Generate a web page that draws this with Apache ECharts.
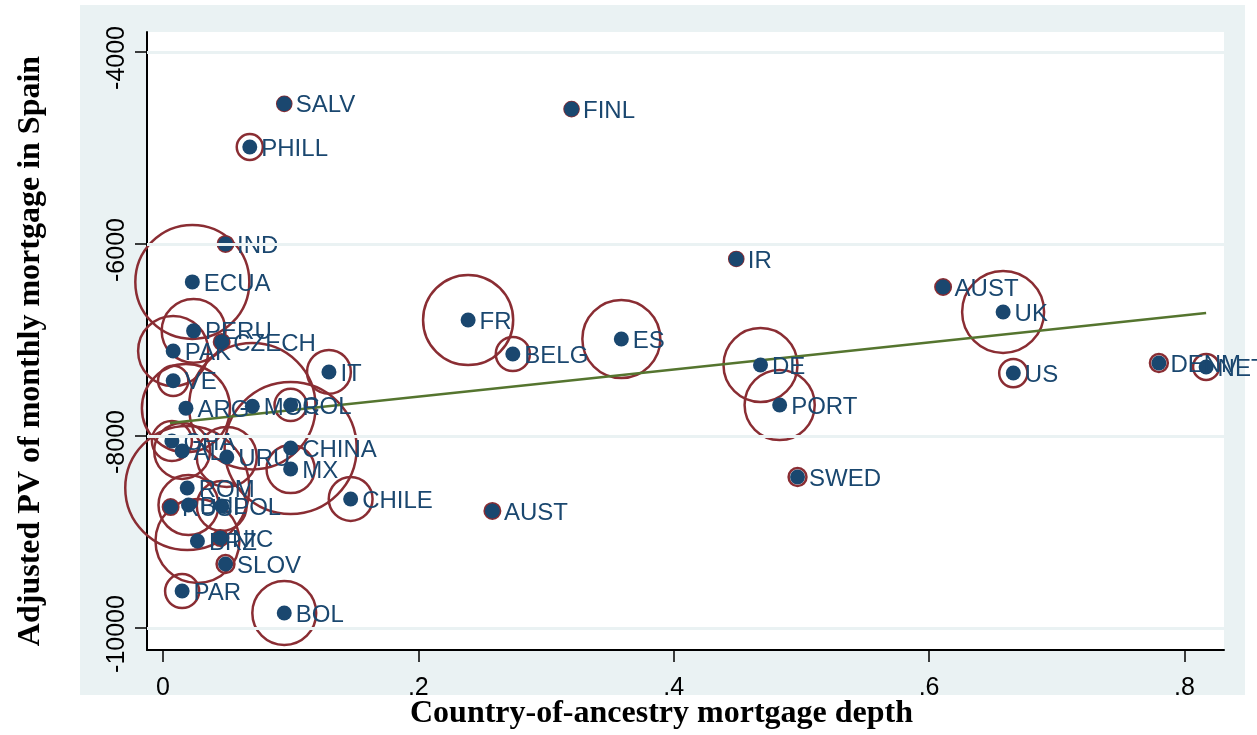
<!DOCTYPE html>
<html>
<head>
<meta charset="utf-8">
<script src="https://cdn.jsdelivr.net/npm/echarts@6/dist/echarts.min.js"></script>
<style>
  html, body { margin: 0; padding: 0; background: #fff; }
  #container { width: 1257px; height: 735px; }
</style>
</head>
<body>
<div id="container"></div>
<script>
// data
var countries = ['SALV', 'FINL', 'PHILL', 'IND', 'ECUA', 'PERU', 'CZECH', 'PAK', 'VE', 'ARG',
  'MOR', 'COL', 'IT', 'CHINA', 'MX', 'URU', 'GHA', 'AL', 'ROM', 'RUS', 'BUL', 'POL',
  'CHILE', 'AUST', 'NIC', 'BRZ', 'SLOV', 'PAR', 'BOL', 'FR', 'BELG', 'ES', 'IR', 'DE',
  'PORT', 'SWED', 'AUST', 'UK', 'US', 'DENM', 'NETH'];
var depth = [0.095, 0.320, 0.068, 0.049, 0.023, 0.024, 0.046, 0.008, 0.008, 0.018,
  0.070, 0.100, 0.130, 0.100, 0.100, 0.050, 0.007, 0.015, 0.019, 0.006, 0.020, 0.046,
  0.147, 0.258, 0.045, 0.027, 0.049, 0.015, 0.095, 0.239, 0.274, 0.359, 0.449, 0.468,
  0.483, 0.497, 0.611, 0.658, 0.666, 0.780, 0.817];
var pvAdj = [-4540, -4595, -4990, -6000, -6395, -6905, -7020, -7115, -7425, -7710,
  -7690, -7677, -7333, -8125, -8344, -8219, -8052, -8156, -8542, -8740, -8719, -8729,
  -8656, -8781, -9063, -9094, -9333, -9615, -9844, -6792, -7146, -6990, -6156, -7260,
  -7677, -8427, -6448, -6708, -7344, -7240, -7281];
var weight = [0.5, 0.5, 1.7, 0.6, 32.5, 10.2, 0.6, 12.3, 2.3, 19.4,
  40, 2.6, 4.8, 43.6, 5.8, 9, 4, 7.8, 38.4, 0.6, 9, 6.2,
  4.8, 0.6, 0.6, 17.6, 0.8, 2.9, 10.2, 20.3, 2.9, 15.2, 0.5, 13.7,
  12.3, 0.8, 0.6, 16.8, 2, 0.8, 1.7];
var fitX = [0.0055, 0.817];
var fitY = [-7865, -6719];
var xTicks = [0, 0.2, 0.4, 0.6, 0.8];
var yTicks = [-10000, -8000, -6000, -4000];

var dom = document.getElementById('container');
var myChart = echarts.init(dom, null, { renderer: 'canvas' });

var navy = '#1a476f';
var maroon = '#8a2d33';
var bluishGray = '#eaf2f3';

var pts = depth.map(function (d, i) { return [d, pvAdj[i], weight[i]]; });
var fitData = fitX.map(function (x, i) { return [x, fitY[i]]; });

var option = {
  backgroundColor: '#fff',
  animation: false,
  graphic: [{
    type: 'rect', z: -10, silent: true,
    shape: { x: 80, y: 5, width: 1165, height: 690 },
    style: { fill: bluishGray }
  }],
  grid: {
    left: 147, top: 32, right: 33, bottom: 85,
    outerBoundsMode: 'none', containLabel: false,
    show: true, backgroundColor: '#fff', borderWidth: 0
  },
  xAxis: {
    type: 'value', min: -0.0125, max: 0.831,
    name: 'Country-of-ancestry mortgage depth',
    nameLocation: 'middle', nameGap: 48, nameMoveOverlap: false,
    nameTextStyle: {
      fontFamily: 'Liberation Serif', fontWeight: 'bold', fontSize: 32, color: '#000',
      padding: [0, 48, 0, 0]
    },
    axisLine: { onZero: false, lineStyle: { color: '#000', width: 2 } },
    axisTick: { show: true, customValues: xTicks, length: 12, lineStyle: { color: '#000', width: 1.5 } },
    axisLabel: {
      customValues: xTicks, margin: 26,
      fontFamily: 'Liberation Sans', fontSize: 25, color: '#000',
      formatter: function (v) { return v === 0 ? '0' : String(v).replace(/^0/, ''); }
    },
    splitLine: { show: false }
  },
  yAxis: {
    type: 'value', min: -10229, max: -3792,
    name: 'Adjusted PV of monthly mortgage in Spain',
    nameLocation: 'middle', nameGap: 100, nameRotate: 90,
    nameTextStyle: {
      fontFamily: 'Liberation Serif', fontWeight: 'bold', fontSize: 32, color: '#000',
      padding: [0, 20, 0, 0]
    },
    axisLine: { onZero: false, lineStyle: { color: '#000', width: 2 } },
    axisTick: { show: true, customValues: yTicks, length: 12, lineStyle: { color: '#000', width: 1.5 } },
    axisLabel: {
      customValues: yTicks, rotate: 90, margin: 17,
      padding: [0, 12, 0, 0],
      fontFamily: 'Liberation Sans', fontSize: 25, color: '#000',
      formatter: function (v) { return String(v); }
    },
    splitLine: { show: false }
  },
  series: [
    {
      // gridlines
      type: 'scatter', data: [], z: 1, silent: true,
      markLine: {
        silent: true, symbol: 'none', label: { show: false },
        lineStyle: { color: bluishGray, width: 3, type: 'solid', opacity: 1 },
        data: yTicks.map(function (v) { return { yAxis: v }; })
      }
    },
    {
      // weighted hollow circles
      type: 'scatter', z: 2, data: pts,
      symbol: 'circle',
      symbolSize: function (v) { return 20 * Math.sqrt(v[2]); },
      itemStyle: { color: 'rgba(0,0,0,0)', borderColor: maroon, borderWidth: 2.5, opacity: 1 }
    },
    {
      // fitted line
      type: 'line', z: 3, data: fitData, symbol: 'none',
      lineStyle: { color: '#55752f', width: 2.5 }
    },
    {
      // country markers with labels
      type: 'scatter', z: 4,
      data: pts.map(function (p, i) { return { value: p, name: countries[i] }; }),
      symbol: 'circle', symbolSize: 15,
      itemStyle: { color: navy, opacity: 1 },
      label: {
        show: true, position: 'right', distance: 4, offset: [0, 2],
        formatter: '{b}', color: navy,
        fontFamily: 'Liberation Sans', fontSize: 24
      }
    }
  ]
};

myChart.setOption(option);
window.addEventListener('resize', function () { myChart.resize(); });
</script>
</body>
</html>
